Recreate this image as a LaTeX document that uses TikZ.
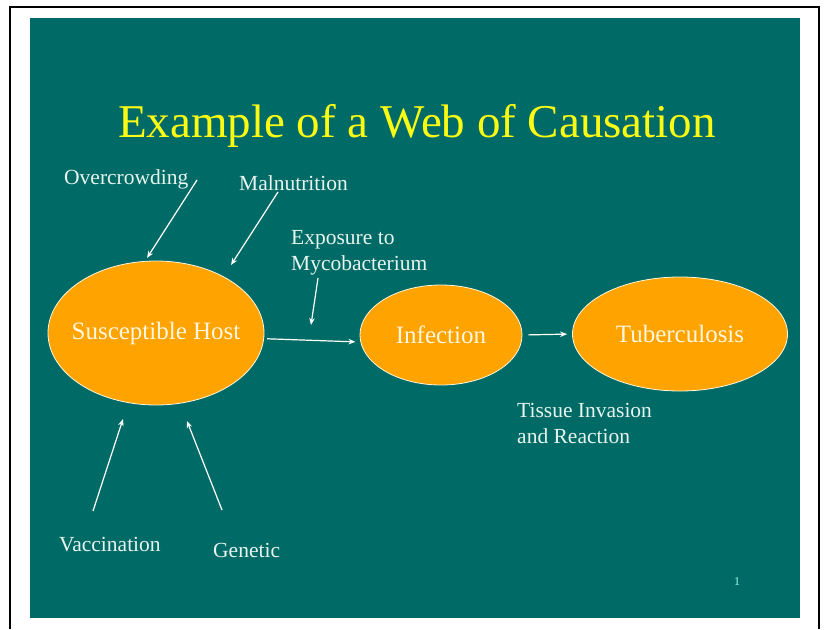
\documentclass[tikz,border=0pt]{standalone}
\usepackage{fontspec}
\setmainfont{Liberation Serif}
\usetikzlibrary{shapes.geometric,arrows.meta}
\definecolor{slide}{RGB}{0,107,102}
\definecolor{blob}{RGB}{255,163,0}
\definecolor{titletext}{RGB}{250,250,20}
\definecolor{labeltext}{RGB}{232,244,238}
\definecolor{blobtext}{RGB}{255,247,222}
\tikzset{
	cause/.style={anchor=base west, text=labeltext, inner sep=0pt, font=\fontsize{21.5}{26}\selectfont},
	stage/.style={ellipse, draw=blobtext, line width=0.8pt, fill=blob, text=blobtext, inner sep=0pt, font=\fontsize{25}{28}\selectfont},
	link/.style={draw=white, line width=1.2pt, -{Stealth[length=7pt,width=5.5pt]}}
}
\begin{document}
\begin{tikzpicture} [x ={(1pt,0pt)}, y ={(0pt,-1pt)}]
	\useasboundingbox (0,0) rectangle (826,629);
	\draw[line width=2pt] (10,629)--(10,7)--(819,7)--(819,629);
	\fill[slide] (30,18) rectangle (800,618);

	\node[anchor = base, text=titletext, inner sep=0pt, font=\fontsize{47}{50}\selectfont] (title) at (417,137) {Example of a Web of Causation};

	\node[stage, inner xsep=-25pt, minimum width=216, minimum height=144] (H) at (156,333) {Susceptible Host};
	\node[stage, minimum width=162, minimum height=100] (I) at (441,335) {Infection};
	\node[stage, minimum width=215, minimum height=114] (T) at (680,334) {Tuberculosis};

	\node[cause] (crowd) at (64,184) {Overcrowding};
	\node[cause] (food) at (239,190) {Malnutrition};
	\node[cause, anchor = north west, align = left] (expo) at (291,230) {Exposure to\\Mycobacterium};
	\node[cause] (vacc) at (59,551) {Vaccination};
	\node[cause] (gene) at (213,557) {Genetic};
	\node[cause, anchor = north west, align = left] (tiss) at (517,403) {Tissue Invasion\\and Reaction};
	\node[anchor = base, text=labeltext!70!cyan, inner sep=0pt, font=\fontsize{12}{14}\selectfont] (page) at (737,585) {1};

	\coordinate (c1) at (197,180);
	\coordinate (h1) at (147,258);
	\coordinate (c2) at (278,192);
	\coordinate (h2) at (231,265);
	\coordinate (c3) at (318,278);
	\coordinate (h3) at (311,325);
	\coordinate (c4) at (93,511);
	\coordinate (h4) at (123,419);
	\coordinate (c5) at (222,510);
	\coordinate (h5) at (187,421);

	\draw[link] (c1)--(h1);
	\draw[link] (c2)--(h2);
	\draw[link] (c3)--(h3);
	\draw[link] (c4)--(h4);
	\draw[link] (c5)--(h5);
	\draw[link, shorten <=3pt, shorten >=5pt] (H.-3)--(I.185);
	\draw[link, shorten <=6pt, shorten >=5pt] (I.east)--(T.west);
\end{tikzpicture}
\end{document}
